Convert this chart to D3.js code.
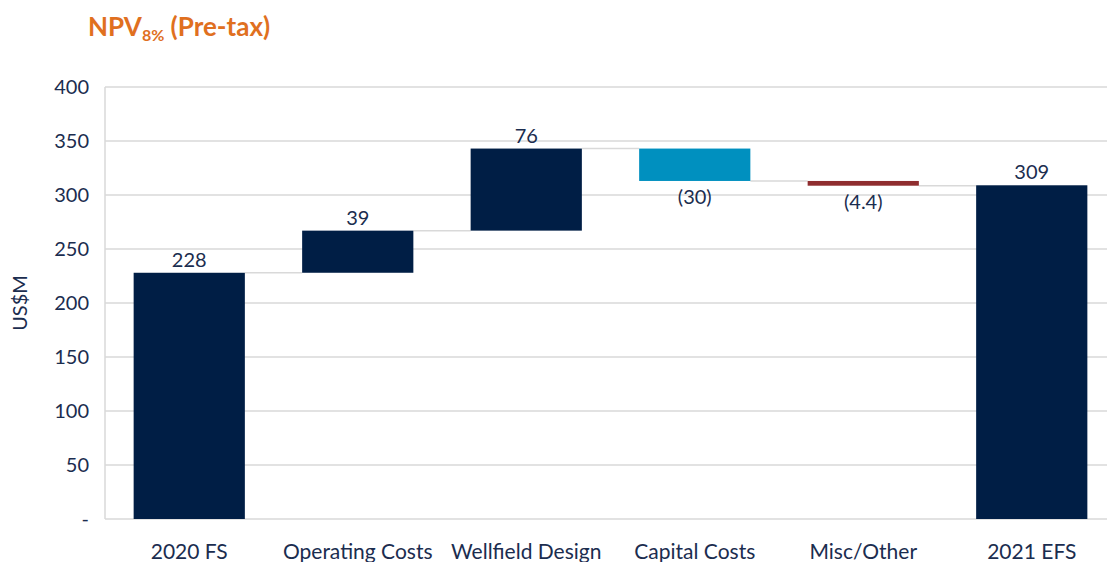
<!DOCTYPE html>
<html>
<head>
<meta charset="utf-8">
<script src="https://cdn.jsdelivr.net/npm/d3@7"></script>
<style>
  body { margin: 0; background: #fff; overflow: hidden; }
  text { font-family: Lato, "Open Sans", sans-serif; }
</style>
</head>
<body>
<script>
let categories = ['2020 FS', 'Operating Costs', 'Wellfield Design', 'Capital Costs', 'Misc/Other', '2021 EFS']
let values = [228, 39, 76, -30, -4.4, 309]
let kinds = ['total', 'step', 'step', 'step', 'step', 'total']
let labels = ['228', '39', '76', '(30)', '(4.4)', '309']
let y_ticks = [0, 50, 100, 150, 200, 250, 300, 350, 400]

let width = 1107
let height = 562
let margin = {left: 105, top: 87, right: -9, bottom: 43}
let navy = '#001e45'
let text_color = '#1b2d4f'
let grid_color = '#d9d9d9'

function bar_color(d) {
    if (d.kind === 'total' || d.value >= 0) return navy
    return d.name === 'Capital Costs' ? '#0090bf' : '#8f2d2f'
}

function make_rows() {
    let running = 0
    return categories.map((name, i) => {
        let row = {name: name, value: values[i], kind: kinds[i], label: labels[i]}
        if (kinds[i] === 'total') {
            row.y0 = 0
            row.y1 = values[i]
            running = values[i]
        } else {
            row.y0 = running
            row.y1 = running + values[i]
            running = row.y1
        }
        return row
    })
}

let rows = make_rows()

let svg = d3.select('body').append('svg')
    .attr('width', width)
    .attr('height', height)

let x = d3.scaleBand()
    .domain(categories)
    .range([margin.left, width - margin.right])
    .paddingInner(0.34)
    .paddingOuter(0.17)

let y = d3.scaleLinear()
    .domain([0, 400])
    .range([height - margin.bottom, margin.top])

// gridlines
svg.append('g')
    .selectAll('line')
    .data(y_ticks)
    .enter()
    .append('line')
    .attr('x1', margin.left)
    .attr('x2', width - margin.right)
    .attr('y1', d => y(d))
    .attr('y2', d => y(d))
    .attr('stroke', grid_color)
    .attr('stroke-width', 1.5)

svg.append('line')
    .attr('x1', margin.left)
    .attr('x2', margin.left)
    .attr('y1', y(400))
    .attr('y2', y(0))
    .attr('stroke', grid_color)
    .attr('stroke-width', 1.5)

// y axis
let y_axis = svg.append('g')
    .attr('transform', `translate(${margin.left},0)`)
    .call(d3.axisLeft(y).tickValues(y_ticks).tickSize(0).tickPadding(16)
        .tickFormat(d => d === 0 ? '-' : d))
y_axis.select('.domain').remove()
y_axis.selectAll('text')
    .attr('fill', text_color)
    .style('font-size', '20px')

// x axis
let x_axis = svg.append('g')
    .attr('transform', `translate(0,${y(0)})`)
    .call(d3.axisBottom(x).tickSize(0).tickPadding(25))
x_axis.select('.domain').remove()
x_axis.selectAll('text')
    .attr('fill', text_color)
    .style('font-size', '21px')

// connectors
let links = rows.slice(0, -1).map((d, i) => ({
    x1: x(d.name) + x.bandwidth(),
    x2: x(rows[i + 1].name),
    v: d.y1
}))
svg.append('g')
    .selectAll('line')
    .data(links)
    .enter()
    .append('line')
    .attr('x1', d => d.x1)
    .attr('x2', d => d.x2)
    .attr('y1', d => y(d.v))
    .attr('y2', d => y(d.v))
    .attr('stroke', grid_color)
    .attr('stroke-width', 1.5)

// bars
svg.append('g')
    .selectAll('rect')
    .data(rows)
    .enter()
    .append('rect')
    .attr('x', d => x(d.name))
    .attr('width', x.bandwidth())
    .attr('y', d => y(Math.max(d.y0, d.y1)))
    .attr('height', d => Math.abs(y(d.y0) - y(d.y1)))
    .attr('fill', d => bar_color(d))

// value labels
svg.append('g')
    .selectAll('text')
    .data(rows)
    .enter()
    .append('text')
    .attr('x', d => x(d.name) + x.bandwidth() / 2)
    .attr('y', d => d.value >= 0 ? y(Math.max(d.y0, d.y1)) - 6 : y(Math.min(d.y0, d.y1)) + 23)
    .attr('text-anchor', 'middle')
    .attr('fill', text_color)
    .style('font-size', '20px')
    .text(d => d.label)

// axis title
svg.append('text')
    .attr('transform', `translate(27,${(y(0) + y(400)) / 2}) rotate(-90)`)
    .attr('text-anchor', 'middle')
    .attr('fill', text_color)
    .style('font-size', '20px')
    .text('US$M')

// chart title
let title = svg.append('text')
    .attr('x', 88)
    .attr('y', 36)
    .attr('fill', '#e0701f')
    .style('font-size', '26px')
    .style('font-weight', 'bold')
title.append('tspan').text('NPV')
title.append('tspan').attr('dy', 5).style('font-size', '16px').text('8%')
title.append('tspan').attr('dy', -5).text(' (Pre-tax)')
</script>
</body>
</html>
